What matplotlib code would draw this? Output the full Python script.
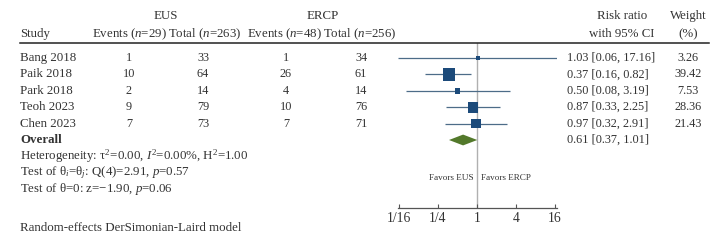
import matplotlib
matplotlib.use("Agg")
import matplotlib.pyplot as plt
import numpy as np

# data
studies = ["Bang 2018", "Paik 2018", "Park 2018", "Teoh 2023", "Chen 2023"]
eus_events = [1, 10, 2, 9, 7]
eus_total = [33, 64, 14, 79, 73]
ercp_events = [1, 26, 4, 10, 7]
ercp_total = [34, 61, 14, 76, 71]
rr = [1.03, 0.37, 0.50, 0.87, 0.97]
lo = [0.06, 0.16, 0.08, 0.33, 0.32]
hi = [17.16, 0.82, 3.19, 2.25, 2.91]
weight = [3.26, 39.42, 7.53, 28.36, 21.43]
overall = (0.61, 0.37, 1.01)
ticks = [1/16, 1/4, 1, 4, 16]
tick_labels = ["1/16", "1/4", "1", "4", "16"]

plt.rcParams['font.family'] = ['Liberation Serif', 'DejaVu Serif']
plt.rcParams['mathtext.fontset'] = 'custom'
plt.rcParams['mathtext.rm'] = 'Liberation Serif'
plt.rcParams['mathtext.it'] = 'Liberation Serif:italic'
TXT = "#333333"
FS = 9.3    # labels
FN = 8.8    # numbers

W, H = 721, 244
fig = plt.figure(figsize=(W / 100, H / 100), dpi=100)

# forest axes: x pixels 397.8..557, y pixels 43..208
x0, x1 = 397.8, 557
y_top, y_bot = 43, 208
ax = fig.add_axes([x0 / W, 1 - y_bot / H, (x1 - x0) / W, (y_bot - y_top) / H])
ax.set_xscale('log', base=2)
ax.set_xlim(0.06, 17.16)
row0, step = 58, 16.4
ax.set_ylim((y_bot - row0) / step, (y_top - row0) / step)

ax.axvline(1, color="#b0b0b0", lw=1.0, zorder=1)
ys = np.arange(len(studies))
ax.hlines(ys, lo, hi, color="#4d6c88", lw=0.9, zorder=2)
ax.scatter(rr, ys, marker='s', s=np.array(weight) * 2.1, color="#1c4a7a",
           edgecolors='none', zorder=3)

oy = len(studies)
m, l, h = overall
ax.fill([l, m, h, m], [oy, oy - 0.33, oy, oy + 0.33], color="#53792b", zorder=3, lw=0)

for s in ['top', 'right', 'left']:
    ax.spines[s].set_visible(False)
ax.spines['bottom'].set_color("#555555")
ax.spines['bottom'].set_linewidth(0.9)
ax.set_yticks([])
ax.set_xticks(ticks)
ax.set_xticklabels(tick_labels)
ax.xaxis.set_minor_locator(matplotlib.ticker.NullLocator())
ax.tick_params(axis='x', direction='in', length=3, width=0.8, color="#555555",
               labelsize=9.8, labelcolor=TXT, pad=3)

fav_y = (178 - row0) / step
ax.annotate("Favors EUS", (1, fav_y), xytext=(-2.5, 0), textcoords='offset points',
            ha='right', va='center', fontsize=6.6, color=TXT)
ax.annotate("Favors ERCP", (1, fav_y), xytext=(3, 0), textcoords='offset points',
            ha='left', va='center', fontsize=6.6, color=TXT)

def ft(xpx, ypx, s, ha='center', size=FS, **kw):
    fig.text(xpx / W, 1 - ypx / H, s, ha=ha, va='center', fontsize=size, color=TXT, **kw)

# header
ft(166, 16, "EUS")
ft(323, 16, "ERCP")
ft(622, 16, "Risk ratio")
ft(688, 16, "Weight")
ft(20, 34, "Study", ha='left')
ft(129, 34, "Events ($n$=29)")
ft(205, 34, "Total ($n$=263)")
ft(284, 34, "Events ($n$=48)")
ft(360, 34, "Total ($n$=256)")
ft(622, 34, "with 95% CI")
ft(688, 34, "(%)")
fig.add_artist(plt.Line2D([20 / W, 709 / W], [1 - 43 / H, 1 - 43 / H],
                          color="#222222", lw=1.1))

# rows
for i, name in enumerate(studies):
    ypx = row0 + i * step
    ft(20, ypx, name, ha='left')
    ft(129, ypx, str(eus_events[i]), size=FN)
    ft(203, ypx, str(eus_total[i]), size=FN)
    ft(286, ypx, str(ercp_events[i]), size=FN)
    ft(361, ypx, str(ercp_total[i]), size=FN)
    ft(567, ypx, f"{rr[i]:.2f} [{lo[i]:.2f}, {hi[i]:.2f}]", ha='left', size=FN)
    ft(688, ypx, f"{weight[i]:.2f}", size=FN)

ypx = row0 + oy * step
ft(20, ypx, "Overall", ha='left', fontweight='bold')
ft(567, ypx, f"{m:.2f} [{l:.2f}, {h:.2f}]", ha='left', size=FN)

ft(20, row0 + 6 * step, r"Heterogeneity: τ$^2$=0.00, $I^2$=0.00%, H$^2$=1.00", ha='left')
ft(20, row0 + 7 * step, r"Test of θ$_i$=θ$_j$: Q(4)=2.91, $p$=0.57", ha='left')
ft(20, row0 + 8 * step, r"Test of θ=0: z=−1.90, $p$=0.06", ha='left')
ft(20, 228, "Random-effects DerSimonian-Laird model", ha='left')

fig.savefig("out.png", dpi=100)
